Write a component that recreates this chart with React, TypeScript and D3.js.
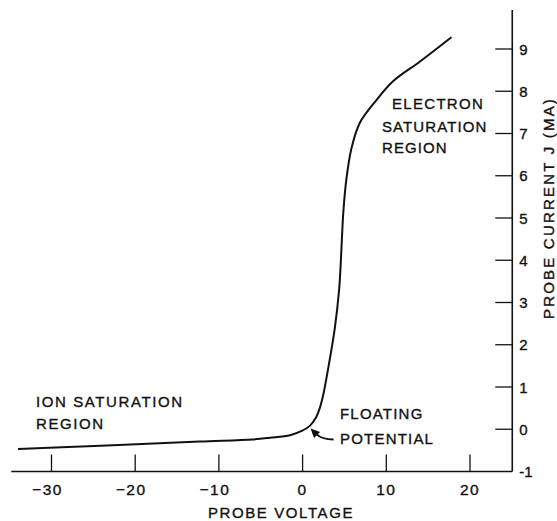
import React from "react";
import * as d3 from "d3";

const voltage = [-34.0, -24.1, -12.3, -5.95, -3.9, -1.5, -0.1, 0.86, 1.58, 2.05, 2.45, 3.04, 3.84, 4.36, 4.56, 4.7, 4.86, 5.22, 5.84, 6.83, 8.82, 10.77, 13.99, 17.78];
const current = [-0.47, -0.39, -0.29, -0.24, -0.2, -0.14, -0.04, 0.08, 0.27, 0.5, 0.8, 1.42, 2.38, 3.3, 3.94, 4.53, 5.12, 5.9, 6.65, 7.25, 7.79, 8.23, 8.7, 9.28];
const xTicks = [-30, -20, -10, 0, 10, 20];
const xTickLabels = ["\u221230", "\u221220", "\u221210", "0", "10", "20"];
const yTicks = [0, 1, 2, 3, 4, 5, 6, 7, 8, 9];
const yTickLabels = ["0", "1", "2", "3", "4", "5", "6", "7", "8", "9"];
const xTitle = "PROBE VOLTAGE";
const yTitle = "PROBE CURRENT J (MA)";

const W = 557;
const H = 521;
const FONT = "'Liberation Sans', Arial, Helvetica, sans-serif";

export default function App() {
  const x = d3.scaleLinear().domain([-30, 20]).range([51.5, 470]);
  const y = d3.scaleLinear().domain([-1, 9]).range([471.5, 49]);
  const axisX = x(25.05);
  const axisY = y(-1);
  const left = x(-34.8);
  const top = 10;

  const pts: [number, number][] = voltage.map((v, i) => [v, current[i]]);
  const line = d3
    .line<[number, number]>()
    .x((d) => x(d[0]))
    .y((d) => y(d[1]))
    .curve(d3.curveCatmullRom.alpha(0.5));

  // floating potential point for the arrow
  const fx = x(0.95);
  const fy = y(0.02);

  const txt = {
    fontFamily: FONT,
    fontSize: 15,
    fill: "#111",
    stroke: "#111",
    strokeWidth: 0.35,
  } as const;

  return (
    <svg
      width={W}
      height={H}
      style={{ position: "absolute", left: 0, top: 0, background: "#fff" }}
    >
      <rect width={W} height={H} fill="#fff" />
      {/* axes */}
      <line x1={left} y1={axisY} x2={axisX} y2={axisY} stroke="#111" strokeWidth={1.6} />
      <line x1={axisX} y1={top} x2={axisX} y2={axisY} stroke="#111" strokeWidth={1.6} />
      {/* x ticks */}
      {xTicks.map((t, i) => (
        <g key={"xt" + t}>
          <line x1={x(t)} x2={x(t)} y1={axisY} y2={axisY - 17} stroke="#111" strokeWidth={1.3} />
          <text
            x={x(t) + (t < 0 ? -4 : 0)}
            y={axisY + 23}
            textAnchor="middle"
            {...txt}
            fontSize={15.5}
            letterSpacing={1.5}
          >
            {xTickLabels[i]}
          </text>
        </g>
      ))}
      {/* y ticks */}
      {yTicks.map((t, i) => (
        <g key={"yt" + t}>
          <line x1={axisX - 17} x2={axisX} y1={y(t)} y2={y(t)} stroke="#111" strokeWidth={1.3} />
          <text x={axisX + 7} y={y(t) + 5.5} textAnchor="start" {...txt}>
            {yTickLabels[i]}
          </text>
        </g>
      ))}
      <text x={axisX + 7} y={axisY + 5.5} textAnchor="start" {...txt}>
        {"-1"}
      </text>
      {/* axis titles */}
      <text x={281} y={518} textAnchor="middle" {...txt} letterSpacing={1.6}>
        {xTitle}
      </text>
      <text
        transform={`translate(${553.5}, ${208}) rotate(-90)`}
        textAnchor="middle"
        {...txt}
        letterSpacing={2.2}
      >
        {yTitle}
      </text>
      {/* curve */}
      <path d={line(pts) || ""} fill="none" stroke="#111" strokeWidth={2} />
      {/* annotations */}
      <text x={36} y={407} {...txt} letterSpacing={1.6}>ION SATURATION</text>
      <text x={36} y={429} {...txt} letterSpacing={1.6}>REGION</text>
      <text x={392} y={109} {...txt} letterSpacing={1.3}>ELECTRON</text>
      <text x={382} y={131.5} {...txt} letterSpacing={1.1}>SATURATION</text>
      <text x={382} y={153} {...txt} letterSpacing={1.1}>REGION</text>
      <text x={340} y={419} {...txt} letterSpacing={1.2}>FLOATING</text>
      <text x={340} y={444} {...txt} letterSpacing={1.2}>POTENTIAL</text>
      {/* arrow */}
      <path
        d={`M${fx + 23},${fy + 11} C${fx + 15},${fy + 11} ${fx + 10},${fy + 10} ${fx + 5.5},${fy + 5.5}`}
        fill="none"
        stroke="#111"
        strokeWidth={2}
      />
      <polygon
        points={`${fx},${fy} ${fx + 9.5},${fy + 3.5} ${fx + 3.5},${fy + 9.5}`}
        fill="#111"
      />
    </svg>
  );
}
